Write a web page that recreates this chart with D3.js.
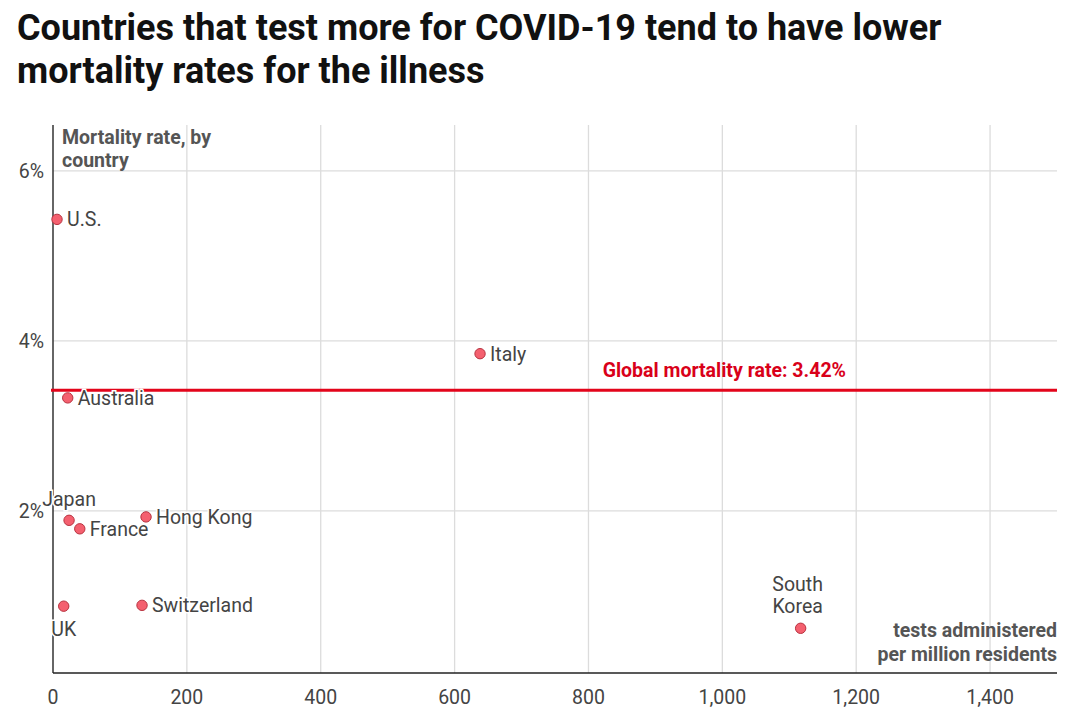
<!DOCTYPE html>
<html>
<head>
<meta charset="utf-8">
<script src="https://cdn.jsdelivr.net/npm/d3@7"></script>
<style>
  body { margin: 0; background: #fff; font-family: Roboto, "Noto Sans", sans-serif; }
</style>
</head>
<body>
<div class="chart"></div>
<script>
const countries = ["U.S.", "Australia", "Italy", "Japan", "France", "Hong Kong", "UK", "Switzerland", "South Korea"];
const testsPerMillion = [6, 22, 638, 24, 40, 139, 16, 133, 1117];
const mortalityRate = [5.43, 3.33, 3.85, 1.89, 1.79, 1.93, 0.88, 0.89, 0.62];
const globalRate = 3.42;
const xTicks = [0, 200, 400, 600, 800, 1000, 1200, 1400];
const yTicks = [2, 4, 6];

const width = 1080, height = 724;
const margin = {top: 125, right: 23, bottom: 51, left: 53};

// where each label sits relative to its dot
const placement = {
  "Japan": "above", "UK": "below", "South Korea": "above2"
};

const x = d3.scaleLinear().domain([0, 1500]).range([margin.left, width - margin.right]);
const y = d3.scaleLinear().domain([0.094, 6.54]).range([height - margin.bottom, margin.top]);

const svg = d3.create("svg")
  .attr("width", width)
  .attr("height", height)
  .style("font-family", "Roboto, sans-serif");

// title
svg.append("text")
  .attr("x", 17).attr("y", 40)
  .style("font", "bold 36px Roboto").attr("fill", "#111")
  .text("Countries that test more for COVID-19 tend to have lower");
svg.append("text")
  .attr("x", 17).attr("y", 83)
  .style("font", "bold 36px Roboto").attr("fill", "#111")
  .text("mortality rates for the illness");

// grid
svg.append("g")
  .selectAll("line")
  .data(xTicks.filter(d => d > 0))
  .join("line")
  .attr("x1", d => x(d)).attr("x2", d => x(d))
  .attr("y1", margin.top).attr("y2", y.range()[0])
  .attr("stroke", "#dcdcdc").attr("stroke-width", 1.3);

svg.append("g")
  .selectAll("line")
  .data(yTicks)
  .join("line")
  .attr("x1", margin.left).attr("x2", width - margin.right)
  .attr("y1", d => y(d)).attr("y2", d => y(d))
  .attr("stroke", "#dcdcdc").attr("stroke-width", 1.3);

// axes
svg.append("line")
  .attr("x1", margin.left).attr("x2", margin.left)
  .attr("y1", margin.top).attr("y2", y.range()[0])
  .attr("stroke", "#333").attr("stroke-width", 1.5);
svg.append("line")
  .attr("x1", margin.left).attr("x2", width - margin.right)
  .attr("y1", y.range()[0]).attr("y2", y.range()[0])
  .attr("stroke", "#222").attr("stroke-width", 1.5);

svg.append("g")
  .selectAll("text")
  .data(xTicks)
  .join("text")
  .attr("x", d => x(d)).attr("y", 704)
  .attr("text-anchor", "middle")
  .style("font", "19.5px Roboto").attr("fill", "#444")
  .text(d => d3.format(",")(d));

svg.append("g")
  .selectAll("text")
  .data(yTicks)
  .join("text")
  .attr("x", 44).attr("y", d => y(d) + 7)
  .attr("text-anchor", "end")
  .style("font", "19.5px Roboto").attr("fill", "#444")
  .text(d => d + "%");

// axis titles
svg.append("text")
  .attr("x", 62).attr("y", 144)
  .style("font", "bold 19.5px Roboto").attr("fill", "#555")
  .selectAll("tspan")
  .data(["Mortality rate, by", "country"])
  .join("tspan")
  .attr("x", 62).attr("dy", (d, i) => i ? 23 : 0)
  .text(d => d);

svg.append("text")
  .attr("y", 637)
  .attr("text-anchor", "end")
  .style("font", "bold 19.5px Roboto").attr("fill", "#555")
  .selectAll("tspan")
  .data(["tests administered", "per million residents"])
  .join("tspan")
  .attr("x", width - margin.right).attr("dy", (d, i) => i ? 24 : 0)
  .text(d => d);

// global line
svg.append("line")
  .attr("x1", margin.left - 2).attr("x2", width - margin.right)
  .attr("y1", y(globalRate)).attr("y2", y(globalRate))
  .attr("stroke", "#e3051b").attr("stroke-width", 3);
svg.append("text")
  .attr("x", 846).attr("y", y(globalRate) - 13)
  .attr("text-anchor", "end")
  .style("font", "bold 19.5px Roboto").attr("fill", "#d90019")
  .text(`Global mortality rate: ${globalRate}%`);

// points
const pts = countries.map((c, i) => ({name: c, tests: testsPerMillion[i], rate: mortalityRate[i]}));

svg.append("g")
  .selectAll("circle")
  .data(pts)
  .join("circle")
  .attr("cx", d => x(d.tests)).attr("cy", d => y(d.rate))
  .attr("r", 5.2)
  .attr("fill", "#f4606f").attr("stroke", "#b8323f").attr("stroke-width", 1);

const labels = svg.append("g")
  .style("font", "19.5px Roboto")
  .attr("fill", "#444")
  .attr("stroke", "#fff").attr("stroke-width", 3)
  .attr("paint-order", "stroke")
  .selectAll("text")
  .data(pts)
  .join("text")
  .attr("x", d => placement[d.name] ? x(d.tests) : x(d.tests) + 10)
  .attr("y", d => {
    const p = placement[d.name];
    if (p === "above") return y(d.rate) - 14;
    if (p === "below") return y(d.rate) + 30;
    if (p === "above2") return y(d.rate) - 37;
    return y(d.rate) + 7;
  })
  .attr("text-anchor", d => placement[d.name] ? "middle" : "start");

labels.each(function(d) {
  const t = d3.select(this);
  if (placement[d.name] === "above2") {
    const parts = d.name.split(" ");
    t.selectAll("tspan").data(parts).join("tspan")
      .attr("x", x(d.tests) - 3).attr("dy", (p, i) => i ? 22 : 0)
      .text(p => p);
  } else {
    t.text(d.name);
  }
});

document.querySelector(".chart").append(svg.node());
</script>
</body>
</html>
